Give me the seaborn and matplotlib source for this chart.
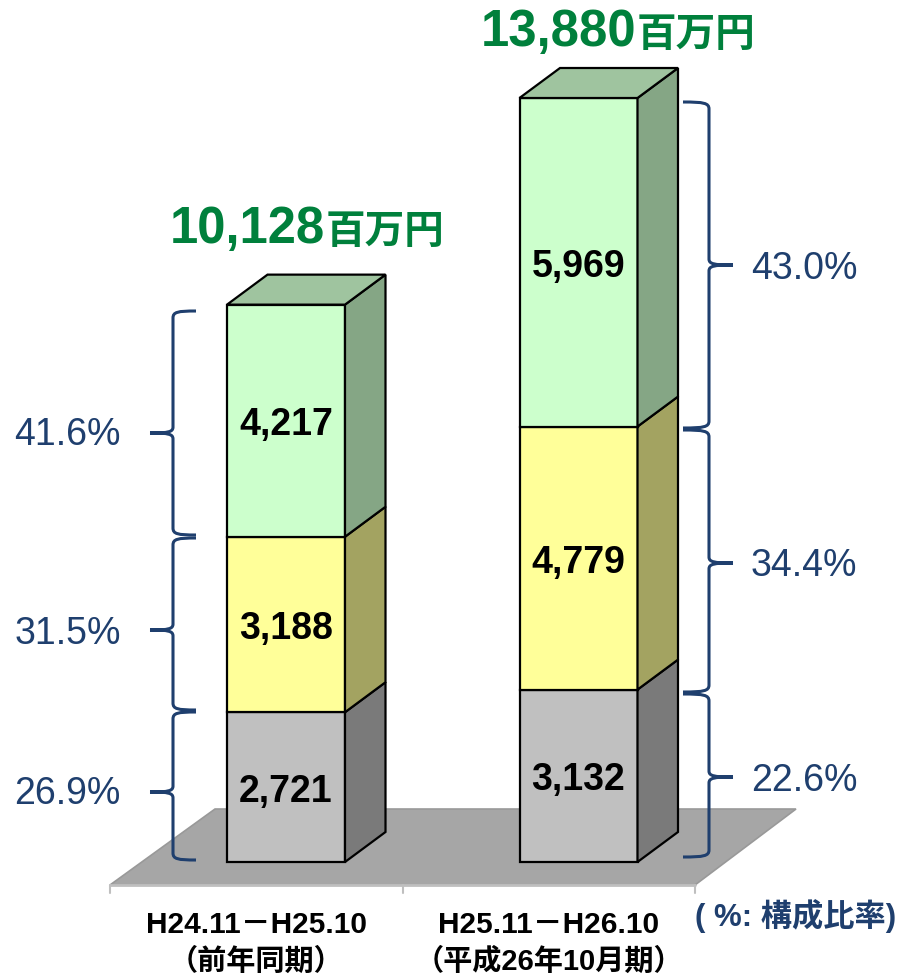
import matplotlib
matplotlib.use('Agg')
from matplotlib import pyplot as plt
from matplotlib.patches import PathPatch, Polygon
from matplotlib.path import Path
from matplotlib.transforms import Affine2D
import numpy as np
import seaborn as sns

periods = ['H24.11－H25.10', 'H25.11－H26.10']
period_notes = ['（前年同期）', '（平成26年10月期）']
bottom_values = np.array([2721, 3132])
middle_values = np.array([3188, 4779])
top_values = np.array([4217, 5969])
totals = ['10,128', '13,880']
bottom_shares = ['26.9%', '22.6%']
middle_shares = ['31.5%', '34.4%']
top_shares = ['41.6%', '43.0%']

W, H = 897, 975
y_scale = 764 / 13880  # px per unit
x_scale = 292.5
zero_px = 862
left_px = 286
depth_x, depth_y = 40.5 / x_scale, 30 / y_scale

blue = '#1F3F6E'
sans = ['Liberation Sans', 'Noto Sans CJK JP']
cjk = ['Noto Sans CJK JP', 'Liberation Sans']

sns.set_theme(style='white')
plt.rcParams['font.family'] = sans

fig = plt.figure(figsize=(W / 100, H / 100), dpi=100)
ax = fig.add_axes([0, 0, 1, 1])
px = Affine2D().scale(1 / W, -1 / H).translate(0, 1) + fig.transFigure

# floor and axis line
ax.add_patch(Polygon([(110, 885), (215, 809), (796, 809), (695, 885)], closed=True, transform=px,
                     facecolor='#A6A6A6', edgecolor='#999999', lw=1.2, zorder=0))
ax.plot([110, 695], [885, 885], transform=px, color='#BFBFBF', lw=2, zorder=0.5)
for tick in [110, 403, 695]:
    ax.plot([tick, tick], [885, 893], transform=px, color='#BFBFBF', lw=1.5, zorder=0.5)

# stacked bars, (value, bottom, front, side)
stack = [
    (bottom_values, 0 * bottom_values, '#C0C0C0', '#7A7A7A'),
    (middle_values, bottom_values, '#FFFF99', '#A3A361'),
    (top_values, bottom_values + middle_values, '#CCFFCC', '#85A685'),
]
for values, base, front, side in stack:
    sns.barplot(x=periods, y=values, bottom=base, color=front, saturation=1, width=118 / x_scale,
                edgecolor='black', linewidth=1.6, ax=ax, zorder=2)
    for i in range(2):
        x1 = i + 59 / x_scale
        ax.add_patch(Polygon([(x1, base[i]), (x1 + depth_x, base[i] + depth_y),
                              (x1 + depth_x, base[i] + values[i] + depth_y), (x1, base[i] + values[i])],
                             closed=True, facecolor=side, edgecolor='black', lw=1.6, zorder=2))
    for i, v in enumerate(values):
        ax.text(i, base[i] + v / 2 - 4.5 / y_scale, f'{v:,}', ha='center', va='center', fontsize=27,
                fontweight='bold', color='black', zorder=3)

# top faces
for i, v in enumerate(bottom_values + middle_values + top_values):
    x0, x1 = i - 59 / x_scale, i + 59 / x_scale
    ax.add_patch(Polygon([(x0, v), (x0 + depth_x, v + depth_y), (x1 + depth_x, v + depth_y), (x1, v)],
                         closed=True, facecolor='#9FC49F', edgecolor='black', lw=1.6, zorder=2))

ax.set_xlim(-left_px / x_scale, (W - left_px) / x_scale)
ax.set_ylim((zero_px - H) / y_scale, zero_px / y_scale)
ax.axis('off')


def brace(spine, end, y0, y1, tip_y, tip):
    verts = [(end, y0), (spine + (end - spine) * 0.2, y0), (spine, y0 + 1), (spine, y0 + 7),
             (spine, tip_y - 6), (spine, tip_y - 1), (spine + (tip - spine) * 0.2, tip_y), (tip, tip_y),
             (spine + (tip - spine) * 0.2, tip_y), (spine, tip_y + 1), (spine, tip_y + 6),
             (spine, y1 - 7), (spine, y1 - 1), (spine + (end - spine) * 0.2, y1), (end, y1)]
    codes = [Path.MOVETO, Path.CURVE4, Path.CURVE4, Path.CURVE4, Path.LINETO,
             Path.CURVE4, Path.CURVE4, Path.CURVE4, Path.CURVE4, Path.CURVE4, Path.CURVE4,
             Path.LINETO, Path.CURVE4, Path.CURVE4, Path.CURVE4]
    ax.add_patch(PathPatch(Path(verts, codes), transform=px, fill=False, edgecolor=blue, lw=2.2, zorder=4))


for y0, y1, tip_y in [(311, 535, 433), (538, 710, 630), (712, 860, 792)]:
    brace(173, 196, y0, y1, tip_y, 150)
for y0, y1, tip_y in [(102, 428, 265), (430, 692, 563), (694, 857, 777)]:
    brace(709, 683, y0, y1, tip_y, 733)

for text, y in zip([top_shares[0], middle_shares[0], bottom_shares[0]], [435, 634, 794]):
    ax.text(67.5, y, text, transform=px, ha='center', va='center', fontsize=27, color=blue)
for text, y in zip([top_shares[1], middle_shares[1], bottom_shares[1]], [269, 566, 781]):
    ax.text(804, y, text, transform=px, ha='center', va='center', fontsize=27, color=blue)

# totals above the bars
for text, right, base in zip(totals, [325, 636], [243, 46]):
    ax.text(right, base, text, transform=px, ha='right', va='baseline', fontsize=36.5,
            fontweight='bold', color='#00803C')
    ax.text(right + 1, base, '百万円', transform=px, ha='left', va='baseline', fontsize=28.5,
            fontweight='bold', color='#00803C', family=cjk)

# category labels
for label, note, x in zip(periods, period_notes, [256.5, 549]):
    ax.text(x, 925, label, transform=px, ha='center', va='center', fontsize=21.5,
            fontweight='bold', color='black', family=sans)
    ax.text(x, 962, note, transform=px, ha='center', va='center', fontsize=21,
            fontweight='bold', color='black', family=sans)

ax.text(695, 916, '( %: 構成比率)', transform=px, ha='left', va='center', fontsize=22.5,
        fontweight='bold', color=blue, family=sans)

fig.savefig('out.png', dpi=100)
